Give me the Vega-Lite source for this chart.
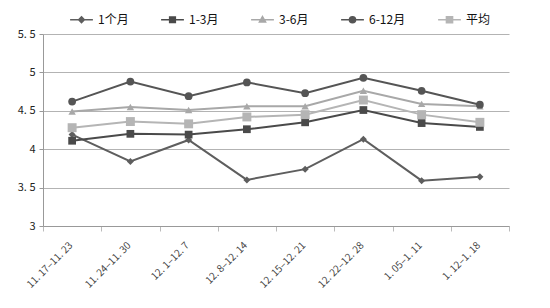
{
  "$schema": "https://vega.github.io/schema/vega-lite/v6.json",
  "width": 466,
  "height": 192,
  "autosize": {"type": "none"},
  "padding": {"left": 43, "top": 34, "right": 41, "bottom": 82},
  "background": "white",
  "config": {
    "font": "Noto Sans CJK SC",
    "view": {"stroke": null},
    "axis": {"labelFont": "Noto Sans CJK SC", "labelColor": "#222", "labelFontSize": 11}
  },
  "data": {
    "values": [
      {"week": "11. 17–11. 23", "series": "1个月", "v": 4.19},
      {"week": "11. 24–11. 30", "series": "1个月", "v": 3.84},
      {"week": "12. 1–12. 7", "series": "1个月", "v": 4.12},
      {"week": "12. 8–12. 14", "series": "1个月", "v": 3.60},
      {"week": "12. 15–12. 21", "series": "1个月", "v": 3.74},
      {"week": "12. 22–12. 28", "series": "1个月", "v": 4.13},
      {"week": "1. 05–1. 11", "series": "1个月", "v": 3.59},
      {"week": "1. 12–1. 18", "series": "1个月", "v": 3.64},
      {"week": "11. 17–11. 23", "series": "1-3月", "v": 4.11},
      {"week": "11. 24–11. 30", "series": "1-3月", "v": 4.20},
      {"week": "12. 1–12. 7", "series": "1-3月", "v": 4.19},
      {"week": "12. 8–12. 14", "series": "1-3月", "v": 4.26},
      {"week": "12. 15–12. 21", "series": "1-3月", "v": 4.35},
      {"week": "12. 22–12. 28", "series": "1-3月", "v": 4.51},
      {"week": "1. 05–1. 11", "series": "1-3月", "v": 4.34},
      {"week": "1. 12–1. 18", "series": "1-3月", "v": 4.29},
      {"week": "11. 17–11. 23", "series": "3-6月", "v": 4.49},
      {"week": "11. 24–11. 30", "series": "3-6月", "v": 4.55},
      {"week": "12. 1–12. 7", "series": "3-6月", "v": 4.51},
      {"week": "12. 8–12. 14", "series": "3-6月", "v": 4.56},
      {"week": "12. 15–12. 21", "series": "3-6月", "v": 4.56},
      {"week": "12. 22–12. 28", "series": "3-6月", "v": 4.76},
      {"week": "1. 05–1. 11", "series": "3-6月", "v": 4.59},
      {"week": "1. 12–1. 18", "series": "3-6月", "v": 4.56},
      {"week": "11. 17–11. 23", "series": "6-12月", "v": 4.62},
      {"week": "11. 24–11. 30", "series": "6-12月", "v": 4.88},
      {"week": "12. 1–12. 7", "series": "6-12月", "v": 4.69},
      {"week": "12. 8–12. 14", "series": "6-12月", "v": 4.87},
      {"week": "12. 15–12. 21", "series": "6-12月", "v": 4.73},
      {"week": "12. 22–12. 28", "series": "6-12月", "v": 4.93},
      {"week": "1. 05–1. 11", "series": "6-12月", "v": 4.76},
      {"week": "1. 12–1. 18", "series": "6-12月", "v": 4.58},
      {"week": "11. 17–11. 23", "series": "平均", "v": 4.28},
      {"week": "11. 24–11. 30", "series": "平均", "v": 4.36},
      {"week": "12. 1–12. 7", "series": "平均", "v": 4.33},
      {"week": "12. 8–12. 14", "series": "平均", "v": 4.42},
      {"week": "12. 15–12. 21", "series": "平均", "v": 4.45},
      {"week": "12. 22–12. 28", "series": "平均", "v": 4.64},
      {"week": "1. 05–1. 11", "series": "平均", "v": 4.45},
      {"week": "1. 12–1. 18", "series": "平均", "v": 4.35}
    ]
  },
  "encoding": {
    "x": {
      "field": "week", "type": "nominal", "sort": null, "title": null,
      "scale": {"paddingInner": 0, "paddingOuter": 0},
      "axis": {"labelAngle": -45, "tickBand": "extent", "domainColor": "#999", "tickColor": "#bbb", "tickSize": 5, "labelPadding": 9, "labelOffset": -5, "grid": false, "labelColor": "#444", "labelFontSize": 10}
    },
    "y": {
      "field": "v", "type": "quantitative", "title": null,
      "scale": {"domain": [3, 5.5], "nice": false, "zero": false},
      "axis": {"values": [3, 3.5, 4, 4.5, 5, 5.5], "labelExpr": "replace(format(datum.value, '~g'), '.', '. ')", "gridColor": "#b3b3b3", "domainColor": "#999", "tickColor": "#999", "tickSize": 4, "labelPadding": 4}
    },
    "color": {
      "field": "series", "type": "nominal",
      "scale": {"domain": ["1个月", "1-3月", "3-6月", "6-12月", "平均"], "range": ["#5e5e5e", "#4a4a4a", "#a8a8a8", "#555555", "#b5b5b5"]},
      "legend": {
        "orient": "none", "legendX": 26, "legendY": -27, "direction": "horizontal", "title": null,
        "labelFontSize": 12, "labelColor": "#111", "columnPadding": 29, "symbolSize": 520, "symbolStrokeWidth": 1.5, "labelOffset": 4,
        "encode": {"symbols": {"update": {
          "shape": {"signal": "datum.value === '1个月' ? 'M-1,0H1M0,-0.25L0.25,0L0,0.25L-0.25,0Z' : datum.value === '1-3月' ? 'M-1,0H1M-0.25,-0.25H0.25V0.25H-0.25Z' : datum.value === '3-6月' ? 'M-1,0H1M0,-0.28L0.27,0.2H-0.27Z' : datum.value === '6-12月' ? 'M-1,0H1M0.27,0A0.27,0.27,0,1,1,-0.27,0A0.27,0.27,0,1,1,0.27,0Z' : 'M-1,0H1M-0.27,-0.27H0.27V0.27H-0.27Z'"},
          "fill": {"scale": "color", "field": "value"},
          "stroke": {"scale": "color", "field": "value"}
        }}}
      }
    }
  },
  "layer": [
    {"mark": {"type": "line", "strokeWidth": 2}},
    {"transform": [{"filter": "datum.series === '1个月'"}], "mark": {"type": "point", "filled": true, "opacity": 1, "shape": "diamond", "size": 50}},
    {"transform": [{"filter": "datum.series === '1-3月'"}], "mark": {"type": "point", "filled": true, "opacity": 1, "shape": "square", "size": 60}},
    {"transform": [{"filter": "datum.series === '3-6月'"}], "mark": {"type": "point", "filled": true, "opacity": 1, "shape": "triangle-up", "size": 55}},
    {"transform": [{"filter": "datum.series === '6-12月'"}], "mark": {"type": "point", "filled": true, "opacity": 1, "shape": "circle", "size": 60}},
    {"transform": [{"filter": "datum.series === '平均'"}], "mark": {"type": "point", "filled": true, "opacity": 1, "shape": "square", "size": 80}}
  ]
}
